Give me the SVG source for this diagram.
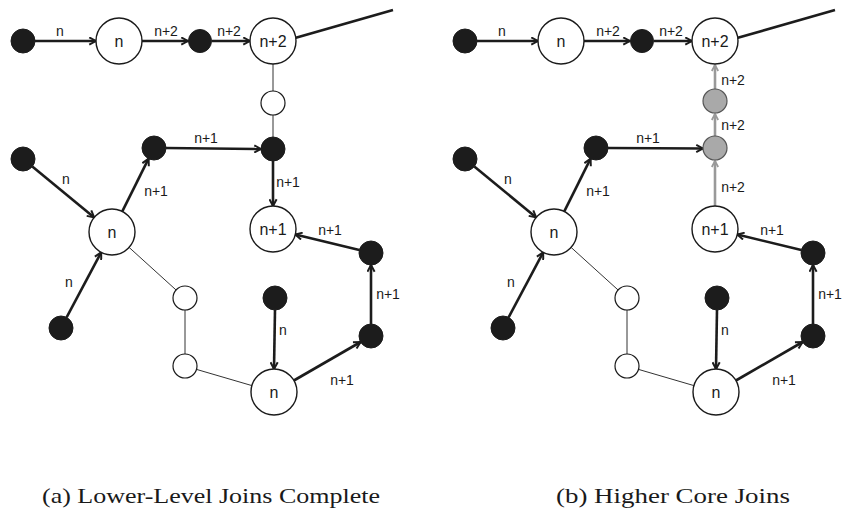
<svg xmlns="http://www.w3.org/2000/svg" width="843" height="512" viewBox="0 0 843 512">
<style>
.bg{fill:#fff}
.big{fill:#fff;stroke:#1a1a1a;stroke-width:1.4}
.sm{fill:#fff;stroke:#1a1a1a;stroke-width:1.2}
.blk{fill:#1c1c1c;stroke:#1c1c1c;stroke-width:1}
.gry{fill:#a9a9a9;stroke:#555;stroke-width:1.2}
.e{stroke:#1c1c1c;stroke-width:2.6;fill:none}
.eg{stroke:#999;stroke-width:2.6;fill:none}
.t{stroke:#333;stroke-width:1;fill:none}
.a{marker-end:url(#ah)}
.ag{marker-end:url(#ahg)}
.nl{font-family:"Liberation Sans",Arial,sans-serif;font-size:16px;fill:#1a1a1a;text-anchor:middle}
.el{font-family:"Liberation Sans",Arial,sans-serif;font-size:14px;fill:#1a1a1a;text-anchor:middle}
.cap{font-family:"Liberation Serif","Times New Roman",serif;font-size:22px;fill:#1a1a1a}
</style>
<defs>
<marker id="ah" viewBox="0 0 10 10" refX="9" refY="5" markerWidth="9" markerHeight="9" markerUnits="userSpaceOnUse" orient="auto">
<path d="M1.5,1 L9,5 L1.5,9" fill="none" stroke="#1c1c1c" stroke-width="2.2"/>
</marker>
<marker id="ahg" viewBox="0 0 10 10" refX="9" refY="5" markerWidth="8" markerHeight="8" markerUnits="userSpaceOnUse" orient="auto">
<path d="M1.5,1 L9,5 L1.5,9" fill="none" stroke="#999" stroke-width="2.2"/>
</marker>
</defs>
<rect class="bg" x="0" y="0" width="843" height="512"/>

<!-- Panel (a) -->
<g id="panel-a">
<g id="a-connectors">
<line class="e a" x1="35" y1="41" x2="96" y2="41"/>
<line class="e a" x1="142" y1="41" x2="188" y2="41"/>
<line class="e a" x1="212" y1="41" x2="250" y2="41"/>
<line class="e" x1="295" y1="38" x2="393" y2="10"/>
<line class="t" x1="273" y1="64" x2="273" y2="91"/>
<line class="t" x1="273" y1="115" x2="273" y2="137"/>
<line class="e a" x1="166" y1="148" x2="261" y2="149"/>
<line class="e a" x1="273" y1="161" x2="273" y2="206"/>
<line class="e a" x1="32.3" y1="166.6" x2="94.2" y2="217.4"/>
<line class="e a" x1="122.3" y1="211.4" x2="148.6" y2="158.7"/>
<line class="e a" x1="66.6" y1="317.4" x2="101.2" y2="252.3"/>
<line class="t" x1="129.1" y1="247.4" x2="176.1" y2="290"/>
<line class="t" x1="185" y1="310" x2="185" y2="354"/>
<line class="t" x1="196.5" y1="369.4" x2="251.9" y2="385.6"/>
<line class="e a" x1="275" y1="310" x2="274" y2="369"/>
<line class="e a" x1="293.9" y1="380.5" x2="360.6" y2="342"/>
<line class="e a" x1="371" y1="324" x2="371" y2="265"/>
<line class="e a" x1="359.3" y1="250.1" x2="295.3" y2="234.5"/>
<text class="el" x="60" y="36">n</text>
<text class="el" x="166" y="36">n+2</text>
<text class="el" x="229" y="36">n+2</text>
<text class="el" x="206" y="143">n+1</text>
<text class="el" x="66" y="184">n</text>
<text class="el" x="156" y="196">n+1</text>
<text class="el" x="288" y="187">n+1</text>
<text class="el" x="330" y="235">n+1</text>
<text class="el" x="69" y="287">n</text>
<text class="el" x="283" y="335">n</text>
<text class="el" x="388" y="299">n+1</text>
<text class="el" x="342" y="385">n+1</text>
</g>
<g id="a-n1"><circle class="blk" cx="23" cy="41" r="12"/></g>
<g id="a-n2"><circle class="big" cx="119" cy="41" r="23"/><text class="nl" x="119" y="47">n</text></g>
<g id="a-n3"><circle class="blk" cx="200" cy="41" r="11.5"/></g>
<g id="a-n4"><circle class="big" cx="273" cy="41" r="23"/><text class="nl" x="273" y="47">n+2</text></g>
<g id="a-n5"><circle class="sm" cx="273" cy="103" r="12"/></g>
<g id="a-n6"><circle class="blk" cx="273" cy="149" r="12"/></g>
<g id="a-n7"><circle class="blk" cx="154" cy="148" r="12"/></g>
<g id="a-n8"><circle class="blk" cx="23" cy="159" r="12"/></g>
<g id="a-n9"><circle class="big" cx="112" cy="232" r="23"/><text class="nl" x="112" y="238">n</text></g>
<g id="a-n10"><circle class="big" cx="273" cy="229" r="23"/><text class="nl" x="273" y="235">n+1</text></g>
<g id="a-n11"><circle class="blk" cx="371" cy="253" r="12"/></g>
<g id="a-n12"><circle class="blk" cx="61" cy="328" r="12"/></g>
<g id="a-n13"><circle class="sm" cx="185" cy="298" r="12"/></g>
<g id="a-n14"><circle class="sm" cx="185" cy="366" r="12"/></g>
<g id="a-n15"><circle class="blk" cx="275" cy="298" r="12"/></g>
<g id="a-n16"><circle class="big" cx="274" cy="392" r="23"/><text class="nl" x="274" y="398">n</text></g>
<g id="a-n17"><circle class="blk" cx="371" cy="336" r="12"/></g>
<text class="cap" x="42" y="503" textLength="338" lengthAdjust="spacingAndGlyphs">(a) Lower-Level Joins Complete</text>
</g>

<!-- Panel (b) -->
<g id="panel-b" transform="translate(442,0)">
<g id="b-connectors">
<line class="e a" x1="35" y1="41" x2="96" y2="41"/>
<line class="e a" x1="142" y1="41" x2="188" y2="41"/>
<line class="e a" x1="212" y1="41" x2="250" y2="41"/>
<line class="e" x1="295" y1="38" x2="393" y2="10"/>
<line class="eg ag" x1="273" y1="206" x2="273" y2="161"/>
<line class="eg ag" x1="273" y1="136" x2="273" y2="114"/>
<line class="eg ag" x1="273" y1="89" x2="273" y2="65"/>
<line class="e a" x1="166" y1="148" x2="261" y2="148.5"/>
<line class="e a" x1="32.3" y1="166.6" x2="94.2" y2="217.4"/>
<line class="e a" x1="122.3" y1="211.4" x2="148.6" y2="158.7"/>
<line class="e a" x1="66.6" y1="317.4" x2="101.2" y2="252.3"/>
<line class="t" x1="129.1" y1="247.4" x2="176.1" y2="290"/>
<line class="t" x1="185" y1="310" x2="185" y2="354"/>
<line class="t" x1="196.5" y1="369.4" x2="251.9" y2="385.6"/>
<line class="e a" x1="275" y1="310" x2="274" y2="369"/>
<line class="e a" x1="293.9" y1="380.5" x2="360.6" y2="342"/>
<line class="e a" x1="371" y1="324" x2="371" y2="265"/>
<line class="e a" x1="359.3" y1="250.1" x2="295.3" y2="234.5"/>
<text class="el" x="60" y="36">n</text>
<text class="el" x="166" y="36">n+2</text>
<text class="el" x="229" y="36">n+2</text>
<text class="el" x="206" y="143">n+1</text>
<text class="el" x="66" y="184">n</text>
<text class="el" x="156" y="196">n+1</text>
<text class="el" x="291" y="85">n+2</text>
<text class="el" x="291" y="130">n+2</text>
<text class="el" x="291" y="192">n+2</text>
<text class="el" x="330" y="235">n+1</text>
<text class="el" x="69" y="287">n</text>
<text class="el" x="283" y="335">n</text>
<text class="el" x="388" y="299">n+1</text>
<text class="el" x="342" y="385">n+1</text>
</g>
<g id="b-n1"><circle class="blk" cx="23" cy="41" r="12"/></g>
<g id="b-n2"><circle class="big" cx="119" cy="41" r="23"/><text class="nl" x="119" y="47">n</text></g>
<g id="b-n3"><circle class="blk" cx="200" cy="41" r="11.5"/></g>
<g id="b-n4"><circle class="big" cx="273" cy="41" r="23"/><text class="nl" x="273" y="47">n+2</text></g>
<g id="b-n5"><circle class="gry" cx="273" cy="101" r="12"/></g>
<g id="b-n6"><circle class="gry" cx="273" cy="148" r="12"/></g>
<g id="b-n7"><circle class="blk" cx="154" cy="148" r="12"/></g>
<g id="b-n8"><circle class="blk" cx="23" cy="159" r="12"/></g>
<g id="b-n9"><circle class="big" cx="112" cy="232" r="23"/><text class="nl" x="112" y="238">n</text></g>
<g id="b-n10"><circle class="big" cx="273" cy="229" r="23"/><text class="nl" x="273" y="235">n+1</text></g>
<g id="b-n11"><circle class="blk" cx="371" cy="253" r="12"/></g>
<g id="b-n12"><circle class="blk" cx="61" cy="328" r="12"/></g>
<g id="b-n13"><circle class="sm" cx="185" cy="298" r="12"/></g>
<g id="b-n14"><circle class="sm" cx="185" cy="366" r="12"/></g>
<g id="b-n15"><circle class="blk" cx="275" cy="298" r="12"/></g>
<g id="b-n16"><circle class="big" cx="274" cy="392" r="23"/><text class="nl" x="274" y="398">n</text></g>
<g id="b-n17"><circle class="blk" cx="371" cy="336" r="12"/></g>
</g>
<text class="cap" x="556" y="503" textLength="234" lengthAdjust="spacingAndGlyphs">(b) Higher Core Joins</text>
</svg>
